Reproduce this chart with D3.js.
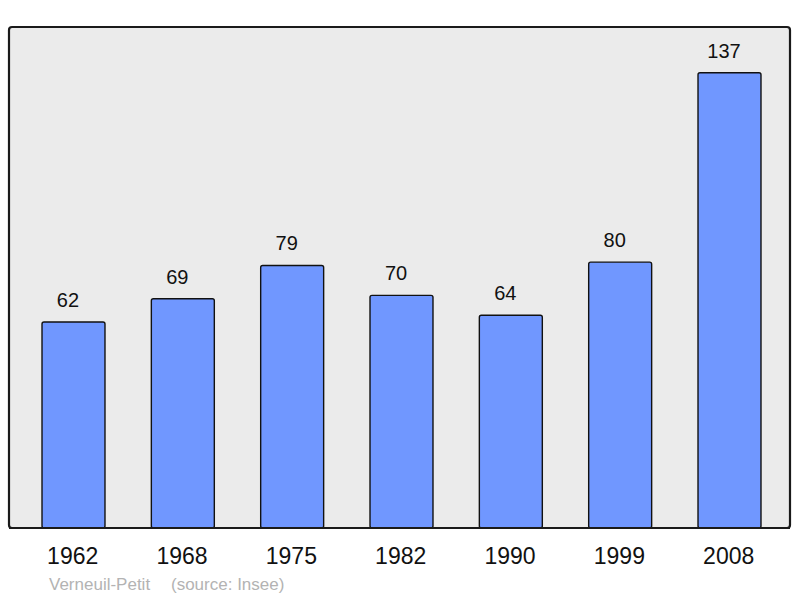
<!DOCTYPE html>
<html>
<head>
<meta charset="utf-8">
<script src="https://cdn.jsdelivr.net/npm/d3@7"></script>
<style>
body{margin:0;background:#fff;}
text{font-family:"Liberation Sans",Arial,sans-serif;}
</style>
</head>
<body>
<svg id="chart" width="800" height="598"></svg>
<script>
// data
var years=["1962","1968","1975","1982","1990","1999","2008"];
var population=[62,69,79,70,64,80,137];
var commune="Verneuil-Petit";
var source="(source: Insee)";

var svg=d3.select("#chart");

//scales
var x=d3.scaleBand()
	.domain(years)
	.range([18.83,784.17])
	.paddingInner(0.424)
	.paddingOuter(0.212);
var y=d3.scaleLinear()
	.domain([0,150])
	.range([528,29.5]);

//frame
svg.append("rect")
	.attr("x",9)
	.attr("y",27)
	.attr("width",781)
	.attr("height",501)
	.attr("rx",3)
	.attr("fill","#ebebeb")
	.attr("stroke","#1a1a1a")
	.attr("stroke-width",2.2);

//bars
svg.selectAll("rect.bar")
	.data(population)
	.enter()
	.append("rect")
	.attr("class","bar")
	.attr("x",function(d,i){return x(years[i]);})
	.attr("y",function(d){return y(d);})
	.attr("width",x.bandwidth())
	.attr("height",function(d){return y(0)-y(d);})
	.attr("rx",2)
	.attr("fill","#7097ff")
	.attr("stroke","#111")
	.attr("stroke-width",1.4);

//redraw baseline over bars
svg.append("line")
	.attr("x1",9).attr("x2",790)
	.attr("y1",528).attr("y2",528)
	.attr("stroke","#1a1a1a")
	.attr("stroke-width",2.2);

//value labels (sit a bit left of bar centre, like the original)
svg.selectAll("text.val")
	.data(population)
	.enter()
	.append("text")
	.attr("class","val")
	.attr("x",function(d,i){return x(years[i])+x.bandwidth()/2-5.5;})
	.attr("y",function(d){return y(d)-15;})
	.attr("text-anchor","middle")
	.attr("font-size",20)
	.attr("fill","#111")
	.text(function(d){return d;});

//year axis labels
var xAxis=d3.axisBottom(x).tickSize(0).tickPadding(0);
var gx=svg.append("g")
	.attr("transform","translate(-0.8,547.5)")
	.call(xAxis);
gx.select(".domain").remove();
gx.selectAll("text")
	.attr("font-size",23)
	.attr("font-family","Liberation Sans, Arial, sans-serif")
	.attr("fill","#111")
	.attr("dy","0.72em");

//source
svg.append("text")
	.attr("x",49)
	.attr("y",590)
	.attr("font-size",17)
	.attr("fill","#b3b3b3")
	.text(commune);
svg.append("text")
	.attr("x",171)
	.attr("y",590)
	.attr("font-size",17)
	.attr("fill","#b3b3b3")
	.text(source);
</script>
</body>
</html>
